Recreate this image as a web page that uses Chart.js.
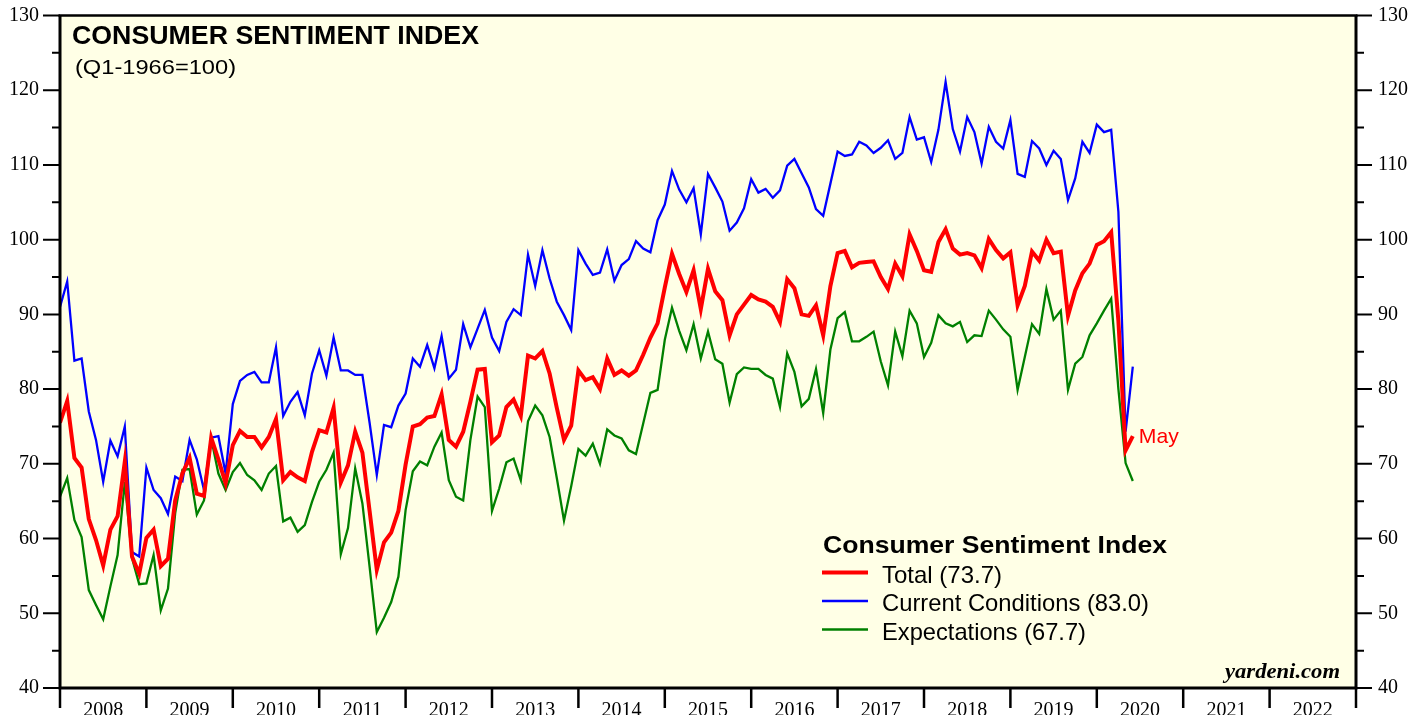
<!DOCTYPE html>
<html>
<head>
<meta charset="utf-8">
<script src="https://cdn.jsdelivr.net/npm/chart.js@4.4.1/dist/chart.umd.min.js"></script>
<style>
html,body{margin:0;padding:0;background:#ffffff;}
#wrap{width:1428px;height:715px;position:relative;}
</style>
</head>
<body>
<div id="wrap"><canvas id="c" width="1428" height="715"></canvas></div>
<script>
// ---- data (monthly, Dec 2007 .. May 2020) ----
const yearLabels = ['2008','2009','2010','2011','2012','2013','2014','2015','2016','2017','2018','2019','2020','2021','2022'];
const yTicks = [40,50,60,70,80,90,100,110,120,130];

const total = [
 75.5,
 78.4,70.8,69.5,62.6,59.8,56.4,61.2,63.0,70.3,57.6,55.3,60.1,
 61.2,56.3,57.3,65.1,68.7,70.8,66.0,65.7,73.5,70.6,67.4,72.5,
 74.4,73.6,73.6,72.2,73.6,76.0,67.8,68.9,68.2,67.7,71.6,74.5,
 74.2,77.5,67.5,69.8,74.3,71.5,63.7,55.8,59.5,60.8,63.7,69.9,
 75.0,75.3,76.2,76.4,79.3,73.2,72.3,74.3,78.3,82.6,82.7,72.9,
 73.8,77.6,78.6,76.4,84.5,84.1,85.1,82.1,77.5,73.2,75.1,82.5,
 81.2,81.6,80.0,84.1,81.9,82.5,81.8,82.5,84.6,86.9,88.8,93.6,
 98.1,95.4,93.0,95.9,90.7,96.1,93.1,91.9,87.2,90.0,91.3,92.6,
 92.0,91.7,91.0,89.0,94.7,93.5,90.0,89.8,91.2,87.2,93.8,98.2,
 98.5,96.3,96.9,97.0,97.1,95.0,93.4,96.8,95.1,100.7,98.5,95.9,
 95.7,99.7,101.4,98.8,98.0,98.2,97.9,96.2,100.1,98.6,97.5,98.3,
 91.2,93.8,98.4,97.2,100.0,98.2,98.4,89.8,93.2,95.5,96.8,99.3,
 99.8,101.0,89.1,71.8,73.7
];

const current = [
 91.0,
 94.4,83.8,84.1,77.0,73.2,67.6,73.1,71.0,75.0,58.2,57.6,69.5,
 66.5,65.4,63.3,68.3,67.7,73.2,70.6,66.5,73.5,73.7,68.7,78.0,
 81.1,81.9,82.3,80.9,80.9,85.6,76.4,78.3,79.6,76.5,82.1,85.2,
 81.8,86.9,82.5,82.5,81.9,81.9,75.5,68.5,75.2,74.9,77.8,79.4,
 84.1,83.0,85.9,82.8,87.1,81.4,82.6,88.7,85.6,88.1,90.6,86.9,
 85.1,89.0,90.7,89.9,98.0,93.8,98.6,94.8,91.7,89.9,87.9,98.6,
 96.8,95.3,95.6,98.7,94.5,96.6,97.4,99.8,98.8,98.3,102.6,104.7,
 109.2,106.7,105.0,106.9,100.7,108.8,107.0,105.1,101.2,102.3,104.2,108.1,
 106.3,106.8,105.6,106.6,109.9,110.8,108.9,107.0,104.1,103.2,107.5,111.8,
 111.2,111.4,113.1,112.6,111.6,112.3,113.3,110.8,111.6,116.4,113.4,113.7,
 110.4,114.7,121.1,114.8,111.8,116.4,114.4,110.2,115.1,113.1,112.2,116.0,
 108.8,108.4,113.2,112.2,110.0,111.9,110.8,105.3,108.2,113.1,111.6,115.4,
 114.4,114.7,103.7,74.3,83.0
];

const expectations = [
 65.6,
 68.1,62.5,60.2,53.1,51.1,49.2,53.6,57.8,67.6,57.4,53.9,54.0,
 57.8,50.4,53.3,63.4,69.2,69.3,63.2,65.1,73.4,68.7,66.5,68.9,
 70.1,68.5,67.8,66.5,68.7,69.7,62.3,62.8,60.9,61.8,64.9,67.6,
 69.2,71.5,57.9,61.4,69.4,64.7,56.2,47.5,49.4,51.5,54.9,63.8,
 69.0,70.3,69.8,72.3,74.2,67.8,65.6,65.1,73.2,79.0,77.6,63.7,
 66.7,70.2,70.7,67.8,75.7,77.8,76.5,73.6,68.1,62.4,67.0,72.0,
 71.1,72.7,70.0,74.6,73.8,73.4,71.8,71.3,75.4,79.5,79.9,86.6,
 90.9,87.8,85.2,88.7,84.1,87.7,84.0,83.4,78.2,82.0,82.9,82.7,
 82.7,81.9,81.4,77.6,84.8,82.3,77.7,78.7,82.7,76.8,85.3,89.5,
 90.3,86.4,86.4,87.0,87.7,83.7,80.5,87.7,84.4,90.5,88.8,84.3,
 86.2,89.9,88.8,88.4,89.0,86.3,87.2,87.1,90.5,89.3,88.0,87.0,
 79.9,84.3,88.7,87.4,93.4,89.3,90.5,79.9,83.4,84.3,87.2,88.8,
 90.5,92.1,80.0,70.1,67.7
];

const legendTitle = 'Consumer Sentiment Index';
const chartTitle = 'CONSUMER SENTIMENT INDEX';
const chartSubtitle = '(Q1-1966=100)';
const lastLabel = 'May';
const sourceLabel = 'yardeni.com';

// ---- helpers ----
const toPts = arr => arr.map((v, i) => ({x: i, y: v}));
const BG = '#FFFFE6';

function drawFit(ctx, s, x, y, font, color, w, align) {
  ctx.save();
  ctx.font = font;
  ctx.fillStyle = color;
  ctx.textBaseline = 'alphabetic';
  ctx.textAlign = 'left';
  const m = ctx.measureText(s).width;
  const sx = w ? w / m : 1;
  ctx.translate(align === 'right' ? x - m * sx : x, y);
  ctx.scale(sx, 1);
  ctx.fillText(s, 0, 0);
  ctx.restore();
}

const decor = {
  id: 'decor',
  beforeDraw(chart) {
    const {ctx, chartArea: a} = chart;
    ctx.save();
    ctx.fillStyle = '#ffffff';
    ctx.fillRect(0, 0, chart.width, chart.height);
    ctx.fillStyle = BG;
    ctx.fillRect(a.left, a.top, a.right - a.left, a.bottom - a.top);
    ctx.restore();
  },
  afterDraw(chart) {
    const {ctx, chartArea: a, scales} = chart;
    const ys = scales.y, xs = scales.x;
    ctx.save();
    ctx.strokeStyle = '#000';
    ctx.lineCap = 'butt';
    // y tick marks (major every 10, minor every 5)
    ctx.lineWidth = 2;
    for (let v = 40; v <= 130; v += 5) {
      const py = ys.getPixelForValue(v);
      const major = v % 10 === 0;
      ctx.beginPath();
      ctx.moveTo(a.left - (major ? 17 : 8), py); ctx.lineTo(a.left, py);
      ctx.moveTo(a.right, py); ctx.lineTo(a.right + (major ? 16 : 8), py);
      ctx.stroke();
    }
    // x year boundary ticks
    ctx.lineWidth = 2.5;
    for (let i = 0; i <= yearLabels.length; i++) {
      const px = xs.getPixelForValue(12 * i);
      ctx.beginPath();
      ctx.moveTo(px, a.bottom); ctx.lineTo(px, a.bottom + 20);
      ctx.stroke();
    }
    // frame
    ctx.lineWidth = 3;
    ctx.beginPath();
    ctx.moveTo(a.left, a.top); ctx.lineTo(a.left, a.bottom);
    ctx.lineTo(a.right, a.bottom); ctx.lineTo(a.right, a.top);
    ctx.stroke();
    ctx.lineWidth = 2.5;
    ctx.beginPath();
    ctx.moveTo(a.left - 1.5, a.top); ctx.lineTo(a.right + 1.5, a.top);
    ctx.stroke();
    ctx.restore();

    // titles
    drawFit(ctx, chartTitle, 72, 44, 'bold 25px "Liberation Sans", Arial, sans-serif', '#000', 407);
    drawFit(ctx, chartSubtitle, 75, 74, '21px "Liberation Sans", Arial, sans-serif', '#000', 161);

    // legend
    drawFit(ctx, legendTitle, 823, 553, 'bold 24px "Liberation Sans", Arial, sans-serif', '#000', 344);
    const ds = chart.data.datasets;
    const rows = [582.5, 611, 639.5];
    const lineY = [572.5, 601, 629.5];
    const widths = [120, 267, 204];
    ds.forEach((d, i) => {
      ctx.save();
      ctx.strokeStyle = d.borderColor;
      ctx.lineWidth = d.borderWidth;
      ctx.beginPath();
      ctx.moveTo(822, lineY[i]); ctx.lineTo(868, lineY[i]);
      ctx.stroke();
      ctx.restore();
      drawFit(ctx, d.label, 882, rows[i], '24px "Liberation Sans", Arial, sans-serif', '#000', widths[i]);
    });

    // last-point label
    const lastIdx = total.length - 1;
    const lx = xs.getPixelForValue(lastIdx) + 6;
    const ly = ys.getPixelForValue(total[lastIdx]) + 7;
    drawFit(ctx, lastLabel, lx, ly, '21px "Liberation Sans", Arial, sans-serif', '#ff0000', 40);

    // source
    drawFit(ctx, sourceLabel, 1340, 678, 'italic bold 21px "Liberation Serif", "Times New Roman", serif', '#000', 115, 'right');
  }
};

const tickFont = {family: '"Liberation Serif", "Times New Roman", serif', size: 20};

new Chart(document.getElementById('c'), {
  type: 'line',
  data: {
    datasets: [
      {label: 'Total (73.7)', data: toPts(total), borderColor: '#ff0000', borderWidth: 4},
      {label: 'Current Conditions (83.0)', data: toPts(current), borderColor: '#0000ff', borderWidth: 2.3},
      {label: 'Expectations (67.7)', data: toPts(expectations), borderColor: '#008000', borderWidth: 2.3}
    ]
  },
  options: {
    responsive: false,
    animation: false,
    devicePixelRatio: 1,
    layout: {padding: {top: 15.5, left: 0, right: 0, bottom: 0}},
    elements: {point: {radius: 0, hoverRadius: 0}, line: {tension: 0, fill: false}},
    plugins: {legend: {display: false}, tooltip: {enabled: false}, title: {display: false}},
    events: [],
    scales: {
      x: {
        type: 'linear', position: 'bottom', min: 0, max: 12 * yearLabels.length,
        grid: {display: false, drawTicks: false}, border: {display: false},
        afterBuildTicks: s => { s.ticks = yearLabels.map((_, i) => ({value: 6 + 12 * i})); },
        ticks: {
          autoSkip: false, maxRotation: 0, minRotation: 0, padding: 11, color: '#000', font: tickFont,
          callback: v => yearLabels[Math.round((v - 6) / 12)]
        },
        afterFit: s => { s.height = 27; s.paddingLeft = 0; s.paddingRight = 0; }
      },
      y: {
        position: 'left', min: 40, max: 130,
        grid: {display: false, drawTicks: false}, border: {display: false},
        afterBuildTicks: s => { s.ticks = yTicks.map(v => ({value: v})); },
        ticks: {padding: 21, color: '#000', font: tickFont},
        afterFit: s => { s.width = 60; s.paddingTop = 0; s.paddingBottom = 0; }
      },
      y2: {
        position: 'right', min: 40, max: 130,
        grid: {display: false, drawTicks: false}, border: {display: false},
        afterBuildTicks: s => { s.ticks = yTicks.map(v => ({value: v})); },
        ticks: {padding: 22, color: '#000', font: tickFont},
        afterFit: s => { s.width = 72; s.paddingTop = 0; s.paddingBottom = 0; }
      }
    }
  },
  plugins: [decor]
});
</script>
</body>
</html>
